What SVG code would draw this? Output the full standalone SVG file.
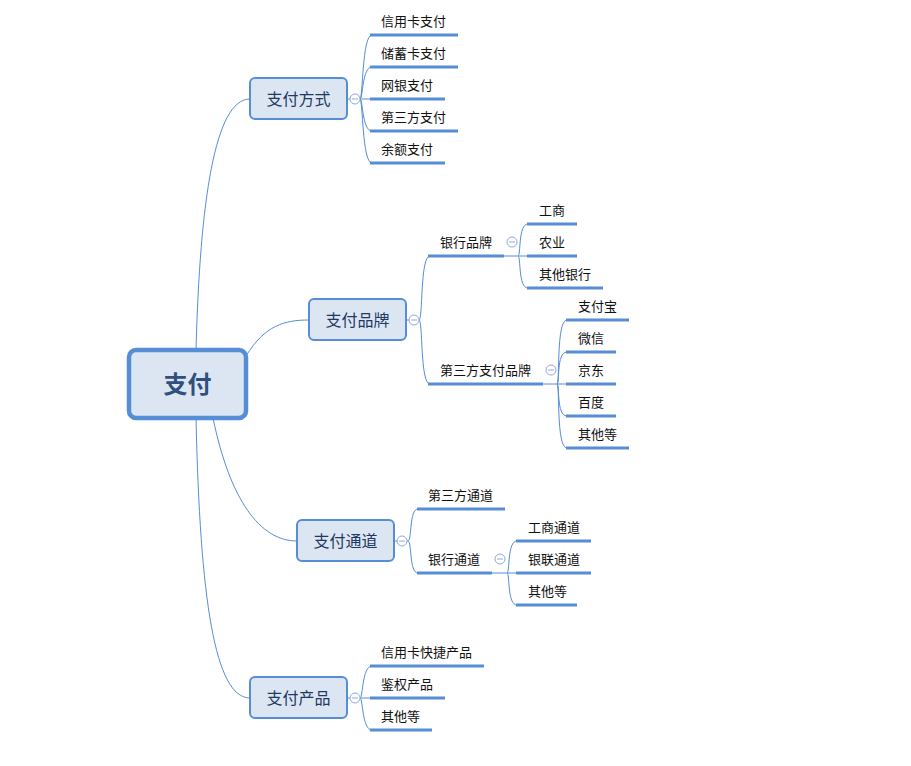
<svg xmlns="http://www.w3.org/2000/svg" width="911" height="766" viewBox="0 0 911 766">
<style>
.box{fill:#DCE6F2;stroke:#558ED5;stroke-width:2}
.root{fill:#DCE6F2;stroke:#558ED5;stroke-width:4.5}
.bt{font-family:"Liberation Sans","Noto Sans CJK SC",sans-serif;font-size:16px;fill:#1F3864;text-anchor:middle}
.rt{font-family:"Liberation Sans","Noto Sans CJK SC",sans-serif;font-size:24px;font-weight:bold;fill:#2F4F7F;text-anchor:middle}
.lt{font-family:"Liberation Sans","Noto Sans CJK SC",sans-serif;font-size:13px;fill:#111}
.ul{stroke:#558ED5;stroke-width:3}
.c{fill:none;stroke:#558ED5;stroke-width:1}
.cc{fill:#fff;stroke:#8EAADB;stroke-width:1}
</style>
<g id="connectors" class="c">
<path d="M196,350 C200,200 215,99 250,99"/>
<path d="M246,356 C265,325 285,320 309,320"/>
<path d="M213,418 C230,500 260,541 297,541"/>
<path d="M196,418 C200,600 215,698 250,698"/>
<path d="M347,99 H360 M360,99 C363,99 362,35 372,35 M360,99 C363,99 362,67 372,67 M360,99 H372 M360,99 C363,99 362,131 372,131 M360,99 C363,99 362,163 372,163"/>
<path d="M406,320 H419 M419,320 C423,320 420,256 430,256 M419,320 C423,320 420,384 430,384"/>
<path d="M504,256 H528 M518,256 C521,256 518,224 528,224 M518,256 C521,256 518,288 528,288"/>
<path d="M543,384 H567 M557,384 C560,384 556,320 567,320 M557,384 C560,384 556,352 567,352 M557,384 C560,384 556,416 567,416 M557,384 C560,384 556,448 567,448"/>
<path d="M394,541 H408 M408,541 C412,541 409,509 418,509 M408,541 C412,541 409,573 418,573"/>
<path d="M492,573 H517 M507,573 C510,573 507,541 517,541 M507,573 C510,573 507,605 517,605"/>
<path d="M347,698 H360 M360,698 C363,698 362,666 372,666 M360,698 H372 M360,698 C363,698 362,730 372,730"/>
</g>
<g id="root"><rect class="root" x="129" y="350" width="117" height="68" rx="7"/><text class="rt" x="187.5" y="393">支付</text></g>
<g id="n1"><rect class="box" x="250" y="78" width="97" height="41" rx="5"/><text class="bt" x="298.5" y="105">支付方式</text><circle class="cc" cx="355" cy="99" r="5"/><path d="M352,99 H358" stroke="#8EAADB"/></g>
<g id="n2"><rect class="box" x="309" y="299" width="97" height="41" rx="5"/><text class="bt" x="357.5" y="326">支付品牌</text><circle class="cc" cx="414" cy="320" r="5"/><path d="M411,320 H417" stroke="#8EAADB"/></g>
<g id="n3"><rect class="box" x="297" y="520" width="97" height="41" rx="5"/><text class="bt" x="345.5" y="547">支付通道</text><circle class="cc" cx="402" cy="541" r="5"/><path d="M399,541 H405" stroke="#8EAADB"/></g>
<g id="n4"><rect class="box" x="250" y="677" width="97" height="41" rx="5"/><text class="bt" x="298.5" y="704">支付产品</text><circle class="cc" cx="355" cy="698" r="5"/><path d="M352,698 H358" stroke="#8EAADB"/></g>
<g id="leaves1">
<path class="ul" d="M370,35 H458 M370,67 H458 M370,99 H445 M370,131 H458 M370,163 H445"/>
<text class="lt" x="381" y="26">信用卡支付</text>
<text class="lt" x="381" y="58">储蓄卡支付</text>
<text class="lt" x="381" y="90">网银支付</text>
<text class="lt" x="381" y="122">第三方支付</text>
<text class="lt" x="381" y="154">余额支付</text>
</g>
<g id="bank-brand">
<path class="ul" d="M428,256 H504"/><text class="lt" x="440" y="247">银行品牌</text>
<circle class="cc" cx="512" cy="242" r="5"/><path d="M509,242 H515" stroke="#8EAADB"/>
<path class="ul" d="M527,224 H577 M527,256 H577 M527,288 H603"/>
<text class="lt" x="539" y="215">工商</text><text class="lt" x="539" y="247">农业</text><text class="lt" x="539" y="279">其他银行</text>
</g>
<g id="third-brand">
<path class="ul" d="M428,384 H543"/><text class="lt" x="440" y="375">第三方支付品牌</text>
<circle class="cc" cx="551" cy="370" r="5"/><path d="M548,370 H554" stroke="#8EAADB"/>
<path class="ul" d="M566,320 H629 M566,352 H616 M566,384 H616 M566,416 H616 M566,448 H629"/>
<text class="lt" x="578" y="311">支付宝</text><text class="lt" x="578" y="343">微信</text><text class="lt" x="578" y="375">京东</text><text class="lt" x="578" y="407">百度</text><text class="lt" x="578" y="439">其他等</text>
</g>
<g id="channels">
<path class="ul" d="M417,509 H505 M417,573 H492"/>
<text class="lt" x="428" y="500">第三方通道</text><text class="lt" x="428" y="564">银行通道</text>
<circle class="cc" cx="500" cy="559" r="5"/><path d="M497,559 H503" stroke="#8EAADB"/>
<path class="ul" d="M516,541 H591 M516,573 H591 M516,605 H577"/>
<text class="lt" x="528" y="532">工商通道</text><text class="lt" x="528" y="564">银联通道</text><text class="lt" x="528" y="596">其他等</text>
</g>
<g id="products">
<path class="ul" d="M370,666 H484 M370,698 H445 M370,730 H432"/>
<text class="lt" x="381" y="657">信用卡快捷产品</text><text class="lt" x="381" y="689">鉴权产品</text><text class="lt" x="381" y="721">其他等</text>
</g>
</svg>
